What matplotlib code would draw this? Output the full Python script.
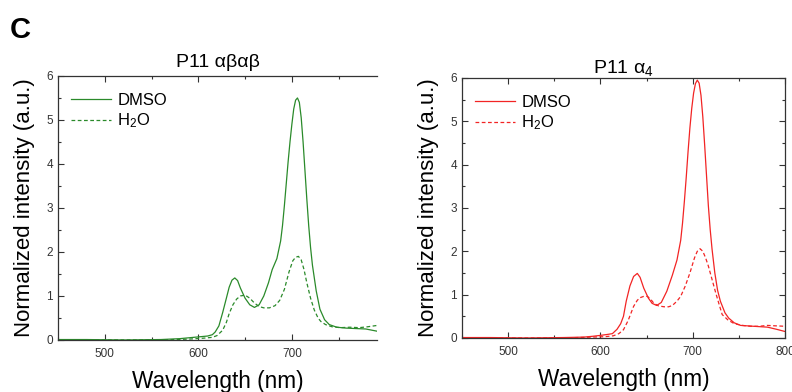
import matplotlib.pyplot as plt
from matplotlib.ticker import MultipleLocator

plt.rcParams['font.family'] = ['Liberation Sans', 'DejaVu Sans']
plt.rcParams['mathtext.fontset'] = 'custom'
plt.rcParams['mathtext.rm'] = 'Liberation Sans'
plt.rcParams['mathtext.it'] = 'Liberation Sans'

# P11 alpha-beta-alpha-beta emission spectra
wl_ab_dmso = [450, 480, 520, 560, 580, 590, 600, 610, 615, 618, 622, 626, 630, 633, 636,
              639, 642, 645, 650, 655, 660, 665, 670, 675, 679, 684, 688, 690, 692, 694,
              696, 698, 700, 702, 704, 706, 708, 710, 712, 714, 716, 718, 720, 722, 726,
              730, 735, 740, 748, 758, 768, 779, 791]
int_ab_dmso = [0.01, 0.01, 0.0, 0.01, 0.03, 0.05, 0.07, 0.09, 0.12, 0.18, 0.32, 0.62, 0.95,
               1.2, 1.36, 1.41, 1.35, 1.18, 0.95, 0.8, 0.74, 0.8, 1.0, 1.3, 1.6, 1.85, 2.25,
               2.6, 3.05, 3.55, 4.05, 4.5, 4.9, 5.25, 5.45, 5.5, 5.4, 5.05, 4.5, 3.85, 3.2,
               2.6, 2.1, 1.7, 1.12, 0.7, 0.46, 0.35, 0.29, 0.27, 0.26, 0.25, 0.2]
wl_ab_h2o = [450, 480, 520, 560, 590, 605, 615, 620, 626, 630, 633, 637, 641, 645, 650,
             655, 660, 665, 670, 676, 682, 687, 692, 697, 701, 704, 707, 710, 713, 716,
             720, 724, 728, 731, 736, 743, 752, 762, 772, 781, 791]
int_ab_h2o = [0.0, 0.0, 0.0, 0.0, 0.02, 0.04, 0.06, 0.1, 0.22, 0.4, 0.6, 0.8, 0.93, 1.0,
              1.02, 0.95, 0.84, 0.76, 0.73, 0.73, 0.78, 0.9, 1.15, 1.55, 1.8, 1.88, 1.9,
              1.82, 1.6, 1.3, 0.95, 0.68, 0.5, 0.42, 0.35, 0.3, 0.28, 0.29, 0.28, 0.3, 0.33]

# P11 alpha4 emission spectra
wl_a4_dmso = [450, 480, 520, 560, 582, 592, 600, 607, 613, 618, 622, 625, 628, 632, 636,
              640, 643, 647, 652, 656, 661, 666, 672, 678, 683, 687, 689, 691, 693, 695,
              697, 699, 701, 703, 705, 707, 709, 711, 713, 715, 717, 719, 721, 724, 727,
              730, 735, 739, 745, 752, 766, 781, 791, 800]
int_a4_dmso = [0.01, 0.01, 0.0, 0.01, 0.02, 0.04, 0.06, 0.08, 0.1, 0.2, 0.33, 0.5, 0.85,
               1.2, 1.42, 1.49, 1.4, 1.15, 0.92, 0.8, 0.75, 0.82, 1.08, 1.45, 1.8, 2.25,
               2.65, 3.15, 3.7, 4.3, 4.85, 5.3, 5.65, 5.87, 5.95, 5.88, 5.6, 5.1, 4.45,
               3.75, 3.05, 2.5, 2.05, 1.5, 1.1, 0.85, 0.58, 0.46, 0.35, 0.29, 0.27, 0.25,
               0.2, 0.15]
wl_a4_h2o = [450, 480, 520, 560, 590, 605, 614, 620, 625, 630, 636, 640, 643, 647, 651,
             655, 658, 663, 669, 674, 678, 683, 687, 692, 697, 702, 705, 708, 711, 714,
             717, 721, 725, 729, 732, 738, 745, 754, 763, 772, 781, 790, 800]
int_a4_h2o = [0.0, 0.0, 0.0, 0.0, 0.02, 0.03, 0.05, 0.1, 0.19, 0.4, 0.73, 0.87, 0.93, 0.96,
              0.96, 0.88, 0.8, 0.74, 0.72, 0.72, 0.75, 0.85, 0.96, 1.2, 1.5, 1.85, 2.0,
              2.06, 2.0, 1.85, 1.66, 1.35, 1.04, 0.75, 0.54, 0.42, 0.33, 0.29, 0.27, 0.27,
              0.29, 0.28, 0.27]

green = '#2a8a2a'
red = '#f22424'

fig = plt.figure(figsize=(7.92, 3.92), dpi=100)
ax1 = fig.add_axes([0.0732, 0.1327, 0.4028, 0.6735])
ax2 = fig.add_axes([0.5833, 0.1378, 0.4078, 0.6633])


def style(ax, xmax, title, pad, right=True):
    ax.set_xlim(450, xmax)
    ax.set_ylim(0, 6)
    ax.xaxis.set_major_locator(MultipleLocator(100))
    ax.xaxis.set_minor_locator(MultipleLocator(50))
    ax.yaxis.set_major_locator(MultipleLocator(1))
    ax.yaxis.set_minor_locator(MultipleLocator(0.5))
    ax.tick_params(which='both', direction='in', top=True, right=right,
                   labelsize=8.5, labelcolor='#333333', width=0.8, color='#333333')
    ax.tick_params(which='major', length=4)
    ax.tick_params(which='minor', length=2.5)
    ax.tick_params(axis='x', pad=6)
    for side in ax.spines.values():
        side.set_linewidth(0.9)
        side.set_color('#333333')
    if not right:
        ax.spines['right'].set_visible(False)
    ax.set_xlabel('Wavelength (nm)', fontsize=16.3, labelpad=7)
    ax.set_ylabel('Normalized intensity (a.u.)', fontsize=16, labelpad=8)
    ax.set_title(title, fontsize=14, pad=pad)


ax1.plot(wl_ab_dmso, int_ab_dmso, color=green, lw=0.9, label='DMSO')
ax1.plot(wl_ab_h2o, int_ab_h2o, color=green, lw=0.9, ls=(0, (3, 2)), label='H$_2$O')
style(ax1, 791, 'P11 αβαβ', pad=6.5, right=False)

ax2.plot(wl_a4_dmso, int_a4_dmso, color=red, lw=0.9, label='DMSO')
ax2.plot(wl_a4_h2o, int_a4_h2o, color=red, lw=0.9, ls=(0, (3, 2)), label='H$_2$O')
style(ax2, 800, 'P11 α$_4$', pad=3.5)

for ax in (ax1, ax2):
    ax.legend(loc='upper left', frameon=False, fontsize=12, handlelength=2.4,
              handletextpad=0.35, labelspacing=0.2, borderaxespad=0.4,
              bbox_to_anchor=(0.0, 0.985))

fig.text(0.012, 0.96, 'C', fontsize=21, fontweight='bold', va='top')

fig.savefig('out.png', dpi=100)
